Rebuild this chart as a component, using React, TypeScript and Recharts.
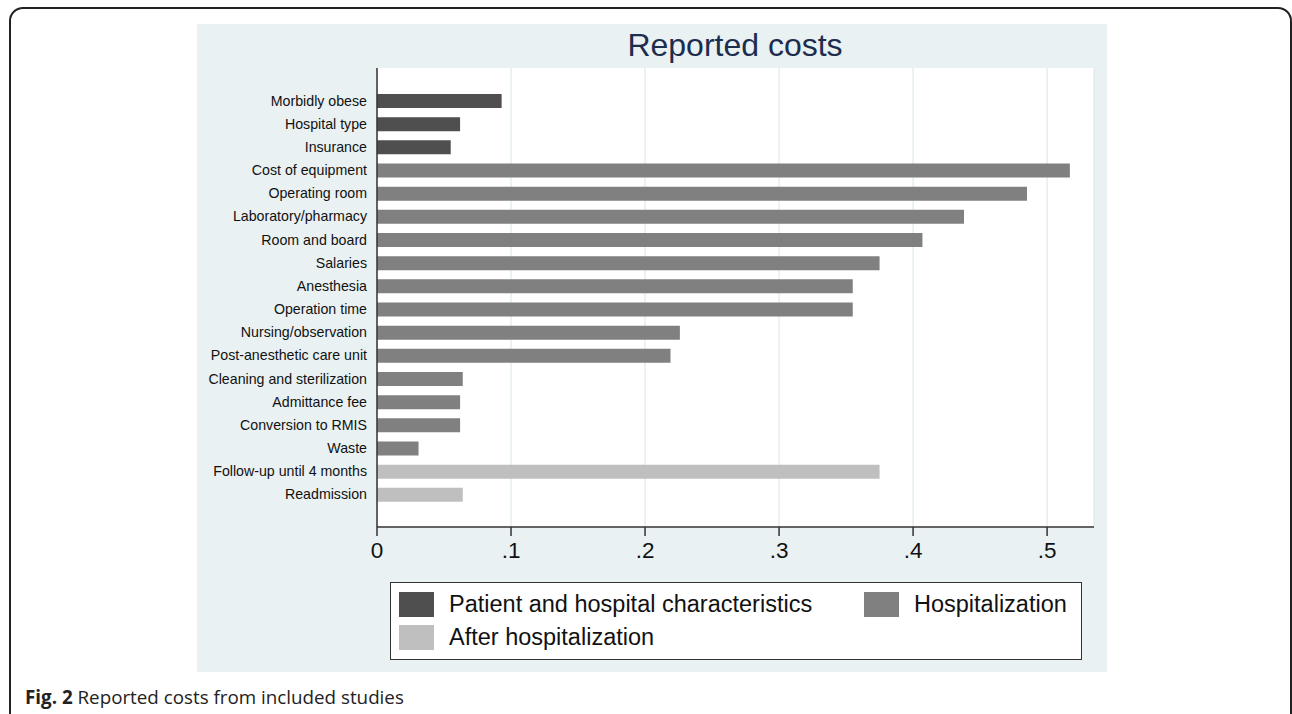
import { BarChart, Bar, XAxis, YAxis, CartesianGrid } from 'recharts'

const categories = [
  'Morbidly obese', 'Hospital type', 'Insurance', 'Cost of equipment', 'Operating room',
  'Laboratory/pharmacy', 'Room and board', 'Salaries', 'Anesthesia', 'Operation time',
  'Nursing/observation', 'Post-anesthetic care unit', 'Cleaning and sterilization',
  'Admittance fee', 'Conversion to RMIS', 'Waste', 'Follow-up until 4 months', 'Readmission',
]
const shares = [
  0.093, 0.062, 0.055, 0.517, 0.485, 0.438, 0.407, 0.375, 0.355, 0.355,
  0.226, 0.219, 0.064, 0.062, 0.062, 0.031, 0.375, 0.064,
]
const groupOf = [
  'patient', 'patient', 'patient', 'hosp', 'hosp', 'hosp', 'hosp', 'hosp', 'hosp', 'hosp',
  'hosp', 'hosp', 'hosp', 'hosp', 'hosp', 'hosp', 'after', 'after',
]
const xTicks = [0, 0.1, 0.2, 0.3, 0.4, 0.5]

const groups = [
  { key: 'patient', name: 'Patient and hospital characteristics', color: '#4f4f4f' },
  { key: 'hosp', name: 'Hospitalization', color: '#808080' },
  { key: 'after', name: 'After hospitalization', color: '#bfbfbf' },
]

const data = categories.map((c, i) => {
  const row: Record<string, string | number | null> = { name: c }
  groups.forEach(g => { row[g.key] = groupOf[i] === g.key ? shares[i] : null })
  return row
})

const fmt = (v: number) => (v === 0 ? '0' : '.' + Math.round(v * 10))

function LegendBox() {
  const item = (g: typeof groups[number], left: number, top: number) => (
    <div key={g.key} style={{ position: 'absolute', left, top, display: 'flex', alignItems: 'center' }}>
      <div style={{ width: 35, height: 25, background: g.color, marginRight: 15 }} />
      <span style={{ fontSize: 23.5, color: '#111' }}>{g.name}</span>
    </div>
  )
  return (
    <div style={{
      position: 'absolute', left: 390, top: 582, width: 690, height: 76,
      background: '#fff', border: '1px solid #333', fontFamily: '"Liberation Sans", Arial, sans-serif',
    }}>
      {item(groups[0], 8, 8)}
      {item(groups[1], 473, 8)}
      {item(groups[2], 8, 41)}
    </div>
  )
}

export default function App() {
  return (
    <div style={{ position: 'absolute', left: 0, top: 0, width: 1292, height: 714, overflow: 'hidden', background: '#fff' }}>
      <div style={{
        position: 'absolute', left: 9, top: 7, width: 1279, height: 740,
        border: '2px solid #222', borderRadius: 14,
      }} />
      <div style={{ position: 'absolute', left: 197, top: 24, width: 910, height: 648, background: '#eaf1f3' }} />
      <div style={{
        position: 'absolute', left: 197, top: 27, width: 1076, textAlign: 'center',
        fontFamily: '"Liberation Sans", Arial, sans-serif', fontSize: 32, color: '#1c2d4e',
      }}>Reported costs</div>
      <div style={{ position: 'absolute', left: 197, top: 24 }}>
        <BarChart
          width={910}
          height={648}
          data={data}
          layout="vertical"
          margin={{ top: 44, right: 13, bottom: 105, left: 0 }}
          style={{ fontFamily: '"Liberation Sans", Arial, sans-serif' }}
        >
          <CartesianGrid horizontal={false} stroke="#d5e6ec" fill="#fff" />
          <XAxis
            type="number"
            domain={[0, 0.535]}
            ticks={xTicks}
            tickFormatter={fmt}
            allowDataOverflow
            height={40}
            tickSize={9}
            tickMargin={6}
            stroke="#333"
            strokeWidth={1.5}
            tick={{ fill: '#111', fontSize: 22.5 }}
          />
          <YAxis
            type="category"
            dataKey="name"
            width={180}
            tickLine={false}
            tickMargin={4}
            stroke="#333"
            strokeWidth={1.5}
            interval={0}
            padding={{ top: 21, bottom: 21 }}
            tick={{ fill: '#111', fontSize: 14.2 }}
          />
          {groups.map(g => (
            <Bar
              key={g.key}
              dataKey={g.key}
              name={g.name}
              stackId="s"
              fill={g.color}
              barSize={14}
              isAnimationActive={false}
            />
          ))}
        </BarChart>
      </div>
      <LegendBox />
      <div style={{
        position: 'absolute', left: 25, top: 684, fontSize: 18.8, color: '#222',
        fontFamily: '"Open Sans", "Noto Sans", sans-serif',
      }}>
        <b>Fig. 2</b> Reported costs from included studies
      </div>
    </div>
  )
}
